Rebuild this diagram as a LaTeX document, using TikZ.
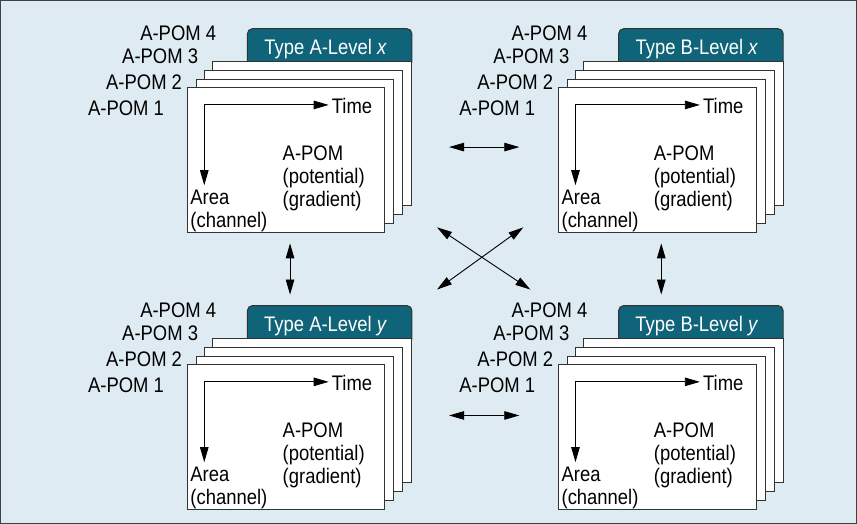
\documentclass[tikz,border=0pt]{standalone}
\usepackage{fontspec}
\setmainfont{Liberation Sans}[FakeStretch=0.875]
\usetikzlibrary{arrows.meta}

\definecolor{paneblue}{HTML}{DEEBF2}
\definecolor{tabteal}{HTML}{0F6479}

\tikzset{
  lbl/.style={inner sep=0pt, font=\fontsize{21}{23}\selectfont},
  sheet/.style={draw=black!80, fill=white, line width=1pt},
  tabbox/.style={draw=black!80, fill=tabteal, rounded corners=5pt, line width=1pt},
  tip/.style={line width=0.9pt, -{Triangle[length=15pt,width=8.5pt]}},
  twotip/.style={line width=0.9pt, {Triangle[length=15pt,width=8.5pt]}-{Triangle[length=15pt,width=8.5pt]}}
}

% one stack of A-POM sheets
\newcommand{\pompanel}[4]{%
\begin{scope}[shift={(#2,#3)}]
\draw[tabbox] (248,30) rectangle (412,68);
\node[lbl, text=white, anchor=base] (#1-tab) at (326,55.5) {#4};
\draw[sheet] (213,63) rectangle (412,206);
\draw[sheet] (205,72) rectangle (403,215);
\draw[sheet] (197,81) rectangle (394,224);
\draw[sheet] (188,89) rectangle (385,233);

\node[lbl, anchor=base east] (#1-p4) at (217,42) {A-POM 4};
\node[lbl, anchor=base east] (#1-p3) at (199,65) {A-POM 3};
\node[lbl, anchor=base east] (#1-p2) at (183,91) {A-POM 2};
\node[lbl, anchor=base east] (#1-p1) at (165,117) {A-POM 1};

\node[lbl, anchor=base west] (#1-time) at (332,115) {Time};
% base of a multi-line node is its last line
\node[lbl, anchor=base west, align=left] (#1-area) at (191,228) {Area\\(channel)};
\node[lbl, anchor=base west, align=left] (#1-pom) at (283,207) {A-POM\\(potential)\\(gradient)};

\coordinate (#1-corner) at (205,106);
\coordinate (#1-down) at (205,186);
\coordinate (#1-right) at (329,106);
\draw[tip] (#1-corner) -- (#1-right);
\draw[tip] (#1-corner) -- (#1-down);
\end{scope}}

\begin{document}
\begin{tikzpicture}[x=1pt, y=-1pt]
\draw[fill=paneblue, draw=black!75, line width=1.2pt] (2,2) rectangle (855,523);

\pompanel{ax}{0}{0}{Type A-Level \textit{x}}
\pompanel{bx}{370}{0}{Type B-Level \textit{x}}
\pompanel{ay}{0}{276}{Type A-Level \textit{y}}
\pompanel{by}{370}{276}{Type B-Level \textit{y}}

% links between the stacks
\coordinate (h1) at (449,148);
\coordinate (h2) at (519,148);
\coordinate (h3) at (449,415.5);
\coordinate (h4) at (519,415.5);
\coordinate (v1) at (290.5,244);
\coordinate (v2) at (290.5,295);
\coordinate (v3) at (660.5,244);
\coordinate (v4) at (660.5,295);
\coordinate (c1) at (437,228);
\coordinate (c2) at (530,290);
\coordinate (c3) at (523,228);
\coordinate (c4) at (437,290);

\draw[twotip] (h1) -- (h2);
\draw[twotip] (h3) -- (h4);
\draw[twotip] (v1) -- (v2);
\draw[twotip] (v3) -- (v4);
\draw[twotip] (c1) -- (c2);
\draw[twotip] (c3) -- (c4);
\end{tikzpicture}
\end{document}
